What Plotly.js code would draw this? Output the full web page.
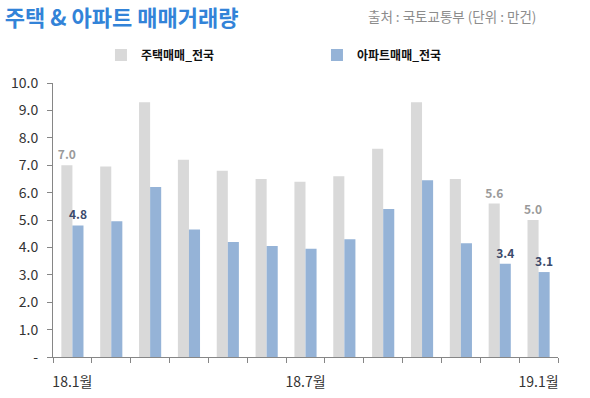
<!DOCTYPE html>
<html>
<head>
<meta charset="utf-8">
<script src="https://cdn.plot.ly/plotly-3.0.1.min.js"></script>
<style>html,body{margin:0;padding:0;background:#fff;}#chart{width:590px;height:398px;}</style>
</head>
<body>
<div id="chart"></div>
<script>
const months = ['18.1월','18.2월','18.3월','18.4월','18.5월','18.6월','18.7월','18.8월','18.9월','18.10월','18.11월','18.12월','19.1월'];
const tickLabels = ['18.1월','','','','','','18.7월','','','','','','19.1월'];
const housing = [7.0, 6.95, 9.3, 7.2, 6.8, 6.5, 6.4, 6.6, 7.6, 9.3, 6.5, 5.6, 5.0];
const apartment = [4.8, 4.95, 6.2, 4.65, 4.2, 4.05, 3.95, 4.3, 5.4, 6.45, 4.15, 3.4, 3.1];
const housingLabels = ['7.0','','','','','','','','','','','5.6','5.0'];
const apartmentLabels = ['4.8','','','','','','','','','','','3.4','3.1'];
const yTickVals = [0,1,2,3,4,5,6,7,8,9,10];
const yTickText = ['-','1.0','2.0','3.0','4.0','5.0','6.0','7.0','8.0','9.0','10.0'];

const KR = '"Noto Sans CJK KR", "Noto Sans", sans-serif';

const data = [
  {type:'bar', name:'주택매매_전국', x:months, y:housing, text:housingLabels,
   textposition:'outside', cliponaxis:false, constraintext:'none',
   textfont:{family:KR, size:12, color:'#9a9a9a', weight:'bold'},
   marker:{color:'#d9d9d9', line:{width:0}}},
  {type:'bar', name:'아파트매매_전국', x:months, y:apartment, text:apartmentLabels,
   textposition:'outside', cliponaxis:false, constraintext:'none',
   textfont:{family:KR, size:12, color:'#3b4a6b', weight:'bold'},
   marker:{color:'#95b3d7', line:{width:0}}}
];

const layout = {
  width:590, height:398,
  margin:{l:53, r:32, t:83, b:41},
  paper_bgcolor:'#ffffff', plot_bgcolor:'#ffffff',
  font:{family:KR, color:'#404040', size:14},
  barmode:'group', bargap:0.43, bargroupgap:0,
  showlegend:true,
  legend:{orientation:'h', x:0.095, xanchor:'left', y:1.102, yanchor:'middle',
    font:{family:KR, size:12, color:'#111111', weight:'bold'},
    entrywidth:171, entrywidthmode:'pixels', itemwidth:30, bgcolor:'rgba(0,0,0,0)'},
  title:{text:'주택 & 아파트 매매거래량', x:0.008, xanchor:'left', xref:'container',
    y:0.955, yanchor:'middle', yref:'container',
    font:{family:KR, size:22, color:'#3283d8', weight:'bold'}},
  xaxis:{type:'category', tickmode:'array', tickvals:months, ticktext:tickLabels,
    tickson:'boundaries', ticks:'outside', ticklen:5, tickcolor:'#868686', tickangle:0,
    showline:true, linecolor:'#868686', linewidth:1, showgrid:false,
    ticklabelstandoff:12, tickfont:{family:KR, size:14, color:'#333333'}},
  yaxis:{range:[0,10], tickmode:'array', tickvals:yTickVals, ticktext:yTickText,
    ticks:'outside', ticklen:5, tickcolor:'#868686', showline:true, linecolor:'#868686',
    linewidth:1, showgrid:false, zeroline:false, ticklabelstandoff:6,
    tickfont:{family:KR, size:14, color:'#333333'}},
  annotations:[
    {text:'출처 : 국토교통부 (단위 : 만건)', xref:'paper', yref:'paper', x:(538-53)/505, xanchor:'right',
     y:(357-16)/274, yanchor:'middle', showarrow:false,
     font:{family:KR, size:13.5, color:'#8c8c8c'}}
  ]
};

Plotly.newPlot('chart', data, layout, {displayModeBar:false, staticPlot:true});
</script>
</body>
</html>
